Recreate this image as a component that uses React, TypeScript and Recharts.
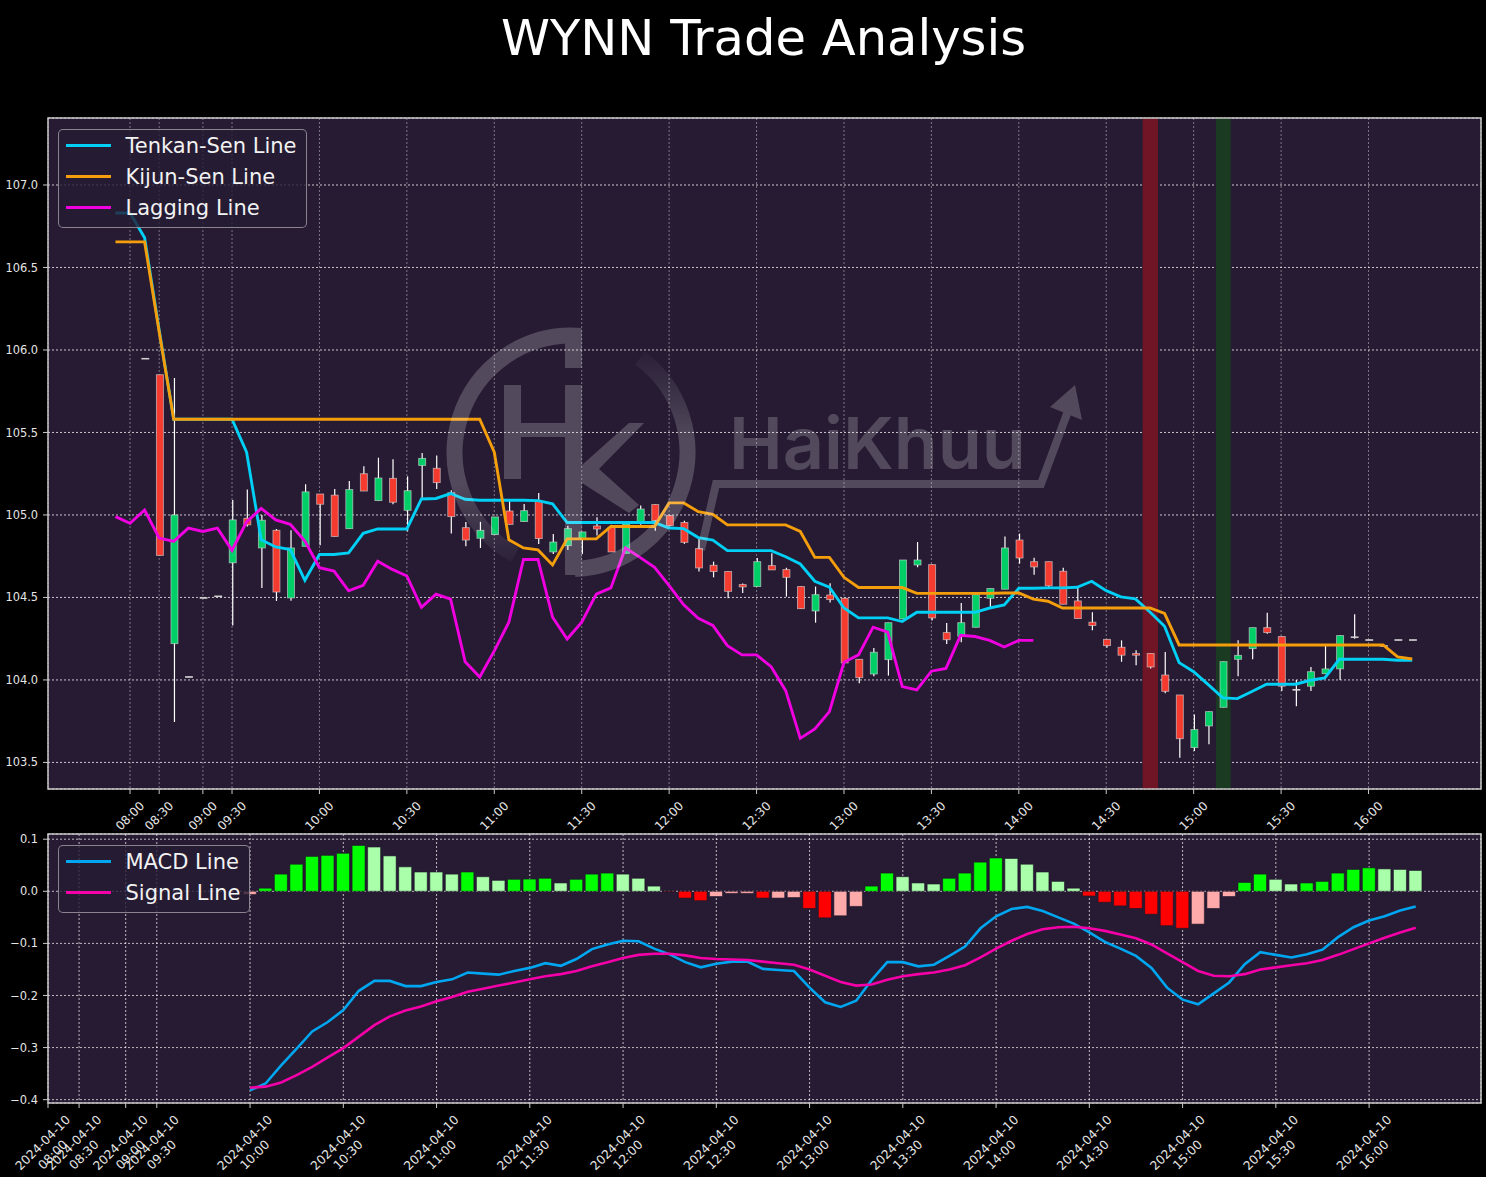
import {
  Bar, CartesianGrid, Cell, ComposedChart, Legend, Line, ReferenceArea, XAxis, YAxis,
} from 'recharts';

const FONT = '"DejaVu Sans", sans-serif';
const PANEL_BG = '#261b33';
const FRAME = '#c8c8c8';

// bar index of every labelled time tick
const timeTicks = [1, 3, 6, 8, 14, 20, 26, 32, 38, 44, 50, 56, 62, 68, 74, 80, 86];
const timeLabels = ['08:00', '08:30', '09:00', '09:30', '10:00', '10:30', '11:00', '11:30', '12:00', '12:30', '13:00', '13:30', '14:00', '14:30', '15:00', '15:30', '16:00'];
const dateLabel = '2024-04-10';

const priceTicks = [103.5, 104, 104.5, 105, 105.5, 106, 106.5, 107];
const macdTicks = [-0.4, -0.3, -0.2, -0.1, 0, 0.1];

const candleOpen = [null, null, 105.949, 105.85, 104.22, 104.02, 104.499, 104.509, 104.71, 104.98, 104.8, 104.907, 104.497, 104.81, 105.127, 105.12, 104.917, 105.25, 105.087, 105.222, 105.028, 105.3, 105.283, 105.135, 104.923, 104.859, 104.881, 105.024, 104.96, 105.083, 104.776, 104.814, 104.853, 104.933, 104.925, 104.768, 104.956, 105.063, 104.996, 104.954, 104.796, 104.695, 104.657, 104.578, 104.566, 104.693, 104.669, 104.566, 104.418, 104.515, 104.495, 104.125, 104.036, 104.123, 104.37, 104.697, 104.699, 104.287, 104.265, 104.319, 104.495, 104.55, 104.848, 104.717, 104.717, 104.659, 104.479, 104.35, 104.246, 104.198, 104.16, 104.16, 104.03, 103.909, 103.59, 103.721, 103.834, 104.125, 104.19, 104.317, 104.263, 103.942, 103.962, 104.038, 104.067, 104.261, 104.244, 104.208, 104.244, 104.244];
const candleHigh = [null, null, 105.949, 105.85, 105.83, 104.02, 104.499, 104.509, 105.09, 105.154, 105.0, 104.915, 104.907, 105.186, 105.127, 105.158, 105.206, 105.295, 105.347, 105.337, 105.234, 105.376, 105.36, 105.15, 104.958, 104.958, 104.988, 105.087, 105.067, 105.133, 104.885, 104.935, 104.897, 104.986, 104.94, 104.945, 105.057, 105.063, 104.996, 104.965, 104.855, 104.717, 104.657, 104.585, 104.739, 104.768, 104.68, 104.566, 104.566, 104.586, 104.495, 104.125, 104.194, 104.347, 104.727, 104.836, 104.699, 104.345, 104.467, 104.517, 104.554, 104.87, 104.887, 104.74, 104.717, 104.68, 104.56, 104.41, 104.246, 104.24, 104.18, 104.16, 104.17, 103.909, 103.79, 103.808, 104.111, 104.24, 104.317, 104.408, 104.263, 104.0, 104.079, 104.21, 104.269, 104.398, 104.244, 104.208, 104.244, 104.244];
const candleLow = [null, null, 105.945, 104.755, 103.745, 104.016, 104.495, 104.505, 104.33, 104.93, 104.558, 104.479, 104.48, 104.81, 104.816, 104.87, 104.917, 105.145, 105.087, 105.065, 104.9, 105.1, 105.158, 104.887, 104.81, 104.8, 104.881, 104.943, 104.96, 104.824, 104.764, 104.788, 104.764, 104.875, 104.776, 104.768, 104.94, 104.905, 104.935, 104.825, 104.657, 104.622, 104.495, 104.527, 104.566, 104.667, 104.505, 104.432, 104.347, 104.47, 104.103, 103.98, 104.022, 104.026, 104.37, 104.683, 104.36, 104.218, 104.228, 104.319, 104.44, 104.55, 104.705, 104.638, 104.56, 104.459, 104.372, 104.301, 104.195, 104.11, 104.089, 104.07, 103.92, 103.529, 103.57, 103.61, 103.834, 104.022, 104.125, 104.28, 103.933, 103.84, 103.933, 104.038, 104.0, 104.25, 104.24, 104.204, 104.24, 104.24];
const candleClose = [null, null, 105.945, 104.755, 105.0, 104.016, 104.495, 104.505, 104.97, 104.94, 104.968, 104.533, 104.8, 105.14, 105.065, 104.87, 105.154, 105.145, 105.224, 105.077, 105.147, 105.343, 105.196, 104.99, 104.848, 104.907, 104.988, 104.943, 105.026, 104.857, 104.836, 104.917, 104.897, 104.915, 104.776, 104.945, 105.036, 104.966, 104.935, 104.834, 104.679, 104.657, 104.537, 104.564, 104.717, 104.667, 104.622, 104.432, 104.517, 104.487, 104.103, 104.014, 104.168, 104.347, 104.727, 104.727, 104.376, 104.244, 104.347, 104.517, 104.554, 104.8, 104.739, 104.685, 104.57, 104.459, 104.372, 104.33, 104.208, 104.15, 104.15, 104.079, 103.931, 103.644, 103.699, 103.808, 104.111, 104.149, 104.317, 104.287, 103.962, 103.938, 104.05, 104.067, 104.269, 104.257, 104.24, 104.204, 104.24, 104.24];

const tenkan = [106.83, 106.83, 106.68, 106.12, 105.58, 105.58, 105.58, 105.58, 105.58, 105.38, 104.85, 104.806, 104.79, 104.604, 104.76, 104.76, 104.77, 104.889, 104.915, 104.915, 104.915, 105.097, 105.1, 105.13, 105.095, 105.089, 105.089, 105.089, 105.089, 105.087, 105.067, 104.954, 104.954, 104.954, 104.954, 104.954, 104.954, 104.954, 104.921, 104.917, 104.863, 104.848, 104.784, 104.784, 104.784, 104.784, 104.747, 104.703, 104.598, 104.562, 104.436, 104.376, 104.376, 104.376, 104.354, 104.41, 104.41, 104.41, 104.41, 104.41, 104.436, 104.455, 104.556, 104.556, 104.558, 104.558, 104.562, 104.598, 104.541, 104.503, 104.491, 104.412, 104.325, 104.105, 104.05, 103.972, 103.891, 103.887, 103.93, 103.974, 103.974, 103.974, 103.998, 104.012, 104.125, 104.125, 104.125, 104.125, 104.119, 104.119];
const kijun = [106.655, 106.655, 106.655, 106.11, 105.58, 105.58, 105.58, 105.58, 105.58, 105.58, 105.58, 105.58, 105.58, 105.58, 105.58, 105.58, 105.58, 105.58, 105.58, 105.58, 105.58, 105.58, 105.58, 105.58, 105.58, 105.58, 105.38, 104.85, 104.8, 104.788, 104.697, 104.855, 104.855, 104.855, 104.93, 104.93, 104.93, 104.93, 105.073, 105.073, 105.02, 105.004, 104.94, 104.94, 104.94, 104.94, 104.94, 104.9, 104.743, 104.743, 104.622, 104.56, 104.56, 104.56, 104.56, 104.525, 104.525, 104.525, 104.525, 104.525, 104.525, 104.527, 104.527, 104.49, 104.477, 104.436, 104.436, 104.436, 104.436, 104.436, 104.436, 104.436, 104.404, 104.212, 104.212, 104.212, 104.212, 104.212, 104.212, 104.212, 104.212, 104.212, 104.212, 104.212, 104.212, 104.212, 104.212, 104.212, 104.14, 104.127];
const lagging = [104.99, 104.95, 105.03, 104.86, 104.84, 104.92, 104.9, 104.92, 104.786, 104.958, 105.04, 104.97, 104.943, 104.842, 104.68, 104.66, 104.54, 104.574, 104.72, 104.67, 104.63, 104.44, 104.52, 104.49, 104.11, 104.018, 104.176, 104.35, 104.73, 104.73, 104.38, 104.248, 104.35, 104.52, 104.558, 104.8, 104.743, 104.683, 104.572, 104.455, 104.374, 104.331, 104.208, 104.152, 104.152, 104.08, 103.935, 103.646, 103.703, 103.808, 104.107, 104.152, 104.32, 104.29, 103.96, 103.94, 104.053, 104.07, 104.27, 104.263, 104.24, 104.2, 104.24, 104.24];

// MACD panel starts at bar 14
const MACD_START = 14;
const macdHist = [-0.006, 0.006, 0.033, 0.052, 0.067, 0.069, 0.073, 0.088, 0.085, 0.068, 0.047, 0.037, 0.037, 0.033, 0.037, 0.028, 0.021, 0.023, 0.0235, 0.025, 0.016, 0.023, 0.033, 0.035, 0.033, 0.025, 0.01, -0.001, -0.013, -0.018, -0.01, -0.004, -0.004, -0.013, -0.013, -0.012, -0.033, -0.051, -0.047, -0.029, 0.01, 0.035, 0.028, 0.016, 0.014, 0.025, 0.035, 0.056, 0.064, 0.063, 0.052, 0.037, 0.019, 0.006, -0.009, -0.021, -0.028, -0.033, -0.044, -0.066, -0.071, -0.063, -0.033, -0.01, 0.017, 0.033, 0.023, 0.014, 0.016, 0.019, 0.035, 0.042, 0.045, 0.043, 0.042, 0.04];
const macdLine = [-0.382, -0.369, -0.334, -0.302, -0.269, -0.251, -0.228, -0.191, -0.172, -0.172, -0.182, -0.182, -0.174, -0.169, -0.156, -0.158, -0.16, -0.153, -0.147, -0.138, -0.143, -0.13, -0.111, -0.102, -0.095, -0.096, -0.11, -0.121, -0.136, -0.146, -0.139, -0.135, -0.135, -0.149, -0.151, -0.153, -0.185, -0.213, -0.222, -0.21, -0.17, -0.136, -0.136, -0.144, -0.141, -0.124, -0.106, -0.071, -0.048, -0.034, -0.03, -0.038, -0.05, -0.062, -0.079, -0.097, -0.11, -0.124, -0.147, -0.185, -0.208, -0.217, -0.196, -0.175, -0.14, -0.117, -0.122, -0.127, -0.121, -0.112, -0.088, -0.069, -0.056, -0.048, -0.037, -0.029];
const signalLine = [-0.377, -0.375, -0.367, -0.353, -0.337, -0.319, -0.301, -0.279, -0.257, -0.24, -0.229, -0.221, -0.211, -0.203, -0.193, -0.187, -0.181, -0.175, -0.169, -0.163, -0.159, -0.153, -0.144, -0.136, -0.128, -0.122, -0.12, -0.12, -0.123, -0.128, -0.13, -0.131, -0.132, -0.135, -0.138, -0.141, -0.15, -0.162, -0.174, -0.181, -0.179, -0.17, -0.163, -0.159, -0.156, -0.15, -0.142, -0.127, -0.11, -0.095, -0.082, -0.073, -0.069, -0.068, -0.071, -0.076, -0.083, -0.09, -0.102, -0.119, -0.136, -0.153, -0.162, -0.163, -0.159, -0.15, -0.146, -0.142, -0.138, -0.132, -0.122, -0.111, -0.1, -0.089, -0.079, -0.07];

const priceData = candleOpen.map((open, i) => ({
  i,
  open,
  close: candleClose[i],
  high: candleHigh[i],
  low: candleLow[i],
  range: open == null ? undefined : [candleLow[i], candleHigh[i]],
  tenkan: tenkan[i],
  kijun: kijun[i],
  lagging: lagging[i] ?? null,
}));

const macdData = macdHist.map((hist, k) => ({
  i: MACD_START + k,
  hist,
  macd: macdLine[k],
  signal: signalLine[k],
}));

// bright when the histogram grows away from zero, pale when it shrinks
function histColor(k: number) {
  const v = macdHist[k];
  const prev = macdHist[k - 1];
  if (v >= 0) return prev !== undefined && v > prev ? '#00ff00' : '#aaffaa';
  return prev !== undefined && v < prev ? '#ff0000' : '#ffaaaa';
}

function Candle(props: any) {
  const { x, y, width, height, payload } = props;
  if (!payload || payload.open == null) return <g />;
  const { open, close, high, low } = payload;
  const perUnit = height / (high - low);
  const top = y + (high - Math.max(open, close)) * perUnit;
  const bodyH = Math.abs(open - close) * perUnit;
  const up = close >= open;
  const cx = x + width / 2 + 0.5;
  let fill = up ? '#00cf68' : '#f53b30';
  if (bodyH < 1) fill = '#b0b0b0'; // flat bars read as a grey dash
  return (
    <g>
      <line x1={cx} x2={cx} y1={y} y2={y + height} stroke="#ffffff" strokeWidth={1.2} />
      <rect
        x={x + 0.5}
        y={top}
        width={width}
        height={bodyH}
        fill={fill}
        stroke="#d9d9d9"
        strokeOpacity={bodyH < 1 ? 0.9 : 0.65}
        strokeWidth={0.9}
      />
    </g>
  );
}

function TimeTick({ x, y, payload }: any) {
  const label = timeLabels[timeTicks.indexOf(payload.value)];
  return (
    <text
      x={x}
      y={y + 20}
      transform={`rotate(-45 ${x} ${y + 20})`}
      textAnchor="middle"
      dominantBaseline="central"
      fontSize={12}
      fontFamily={FONT}
      fill="#e6e6e6"
    >
      {label}
    </text>
  );
}

function DateTimeTick({ x, y, payload }: any) {
  const label = timeLabels[timeTicks.indexOf(payload.value)];
  const shared = { textAnchor: 'middle', dominantBaseline: 'central', fontSize: 12.3, fontFamily: FONT, fill: '#e6e6e6' } as any;
  return (
    <g>
      <text {...shared} x={x - 5} y={y + 33} transform={`rotate(-45 ${x - 5} ${y + 33})`}>{dateLabel}</text>
      <text {...shared} x={x + 5} y={y + 45} transform={`rotate(-45 ${x + 5} ${y + 45})`}>{label}</text>
    </g>
  );
}

function BoxLegend({ items, style }: any) {
  return (
    <div
      style={{
        position: 'absolute',
        boxSizing: 'border-box',
        background: 'rgba(38,27,51,0.8)',
        border: '1.5px solid rgba(204,204,204,0.6)',
        borderRadius: 5,
        fontFamily: FONT,
        fontSize: 21,
        color: '#f2f2f2',
        ...style,
      }}
    >
      {items.map((it: any) => (
        <div key={it.name} style={{ position: 'absolute', left: 0, top: it.top, height: 0, width: '100%' }}>
          <div style={{ position: 'absolute', left: 7, top: -2.2, width: 45, height: 2.8, background: it.color }} />
          <div style={{ position: 'absolute', left: 66.5, top: -13.5, lineHeight: '26px', whiteSpace: 'nowrap' }}>{it.name}</div>
        </div>
      ))}
    </div>
  );
}

function Watermark() {
  return (
    <svg width={1486} height={1177} style={{ position: 'absolute', left: 0, top: 0, pointerEvents: 'none' }}>
      <defs>
        <linearGradient id="ringLeft" x1="0" y1="336" x2="0" y2="565" gradientUnits="userSpaceOnUse">
          <stop offset="0.65" stopColor="#fff" stopOpacity={1} />
          <stop offset="1" stopColor="#fff" stopOpacity={0.1} />
        </linearGradient>
        <linearGradient id="ringRight" x1="0" y1="352" x2="0" y2="440" gradientUnits="userSpaceOnUse">
          <stop offset="0" stopColor="#fff" stopOpacity={0.1} />
          <stop offset="1" stopColor="#fff" stopOpacity={1} />
        </linearGradient>
      </defs>
      <g opacity={0.2} fill="#fff">
        <path d="M 581 336 A 117 117 0 0 0 515 555" fill="none" stroke="url(#ringLeft)" strokeWidth={16} />
        <path d="M 640 358 A 117 117 0 0 1 575 569" fill="none" stroke="url(#ringRight)" strokeWidth={16} />
        <path d="M504 385 H521 V423 H565 V385 H582 V575 H565 V437 H521 V479 H504 Z" />
        <rect x={565} y={330} width={17} height={38} />
        <path d="M582 465 L629 423 L644 423 L599 469 L639 505 L629 513 L582 483 Z" />
        <text
          x={729}
          y={469}
          fontFamily="Inter, sans-serif"
          fontWeight={600}
          fontSize={72}
          textLength={297}
          lengthAdjust="spacingAndGlyphs"
        >
          HaiKhuu
        </text>
        <path d="M701 550 L716 484 H1041 L1071 403" fill="none" stroke="#fff" strokeWidth={8} />
        <path d="M1075 385 L1082 420 L1050 407 Z" />
      </g>
    </svg>
  );
}

const priceLegend = [
  { name: 'Tenkan-Sen Line', color: '#00d0f5', top: 16.5 },
  { name: 'Kijun-Sen Line', color: '#f59e0b', top: 47.5 },
  { name: 'Lagging Line', color: '#f000e0', top: 78 },
];
const macdLegend = [
  { name: 'MACD Line', color: '#00a6f0', top: 16 },
  { name: 'Signal Line', color: '#f500a8', top: 47 },
];

function PriceChart() {
  return (
    <ComposedChart width={1486} height={860} data={priceData} margin={{ top: 118, right: 5, bottom: 0, left: 0 }}>
      <CartesianGrid vertical={false} fill={PANEL_BG} stroke="#ffffff" strokeOpacity={0.75} strokeDasharray="2 2" />
      <CartesianGrid horizontal={false} stroke="#ffffff" strokeOpacity={0.4} strokeDasharray="2 2" />
      <ReferenceArea x1={70.5} x2={71.55} y1={103.339} y2={107.406} fill="#701525" fillOpacity={1} stroke="none" />
      <ReferenceArea x1={75.53} x2={76.55} y1={103.339} y2={107.406} fill="#1a3a22" fillOpacity={1} stroke="none" />
      <XAxis
        dataKey="i"
        type="number"
        domain={[-4.63, 93.72]}
        ticks={timeTicks}
        interval={0}
        height={71}
        axisLine={false}
        tickSize={5}
        tickLine={{ stroke: FRAME }}
        tick={<TimeTick />}
        allowDataOverflow
      />
      <YAxis
        type="number"
        domain={[103.339, 107.406]}
        ticks={priceTicks}
        interval={0}
        width={48}
        axisLine={false}
        tickSize={5}
        tickMargin={5}
        tickLine={{ stroke: FRAME }}
        tick={{ fontSize: 11.4, fontFamily: FONT, fill: '#e6e6e6' }}
        tickFormatter={(v: number) => v.toFixed(1)}
        allowDataOverflow
      />
      <Bar dataKey="range" barSize={7} shape={<Candle />} isAnimationActive={false} />
      <Line dataKey="tenkan" stroke="#00d0f5" strokeWidth={2.9} dot={false} isAnimationActive={false} />
      <Line dataKey="kijun" stroke="#f59e0b" strokeWidth={2.9} dot={false} isAnimationActive={false} />
      <Line dataKey="lagging" stroke="#f000e0" strokeWidth={2.9} dot={false} isAnimationActive={false} />
      <ReferenceArea x1={-4.63} x2={93.72} y1={103.339} y2={107.406} fill="none" stroke={FRAME} strokeWidth={1.5} />
      <Legend
        layout="horizontal"
        verticalAlign="middle"
        align="center"
        wrapperStyle={{ position: 'absolute', left: 0, top: 0, width: 0, height: 0 }}
        content={() => <BoxLegend items={priceLegend} style={{ left: 58, top: 129, width: 249, height: 99 }} />}
      />
    </ComposedChart>
  );
}

function MacdChart() {
  return (
    <ComposedChart width={1486} height={347} data={macdData} margin={{ top: 4, right: 5, bottom: 0, left: 0 }}>
      <CartesianGrid fill={PANEL_BG} stroke="#ffffff" strokeOpacity={0.7} strokeDasharray="2 2" />
      <XAxis
        dataKey="i"
        type="number"
        domain={[1, 93.2]}
        ticks={timeTicks}
        interval={0}
        height={74}
        axisLine={false}
        tickSize={5}
        tickLine={{ stroke: FRAME }}
        tick={<DateTimeTick />}
        allowDataOverflow
      />
      <YAxis
        type="number"
        domain={[-0.4064, 0.11]}
        ticks={macdTicks}
        interval={0}
        width={48}
        axisLine={false}
        tickSize={5}
        tickMargin={5}
        tickLine={{ stroke: FRAME }}
        tick={{ fontSize: 11.4, fontFamily: FONT, fill: '#e6e6e6' }}
        tickFormatter={(v: number) => v.toFixed(1).replace('-', '\u2212')}
        allowDataOverflow
      />
      <Bar dataKey="hist" barSize={13} stroke="#1c1426" strokeWidth={0.6} isAnimationActive={false}>
        {macdData.map((d, k) => (
          <Cell key={d.i} fill={histColor(k)} />
        ))}
      </Bar>
      <Line dataKey="macd" stroke="#00a6f0" strokeWidth={2.6} dot={false} isAnimationActive={false} />
      <Line dataKey="signal" stroke="#f500a8" strokeWidth={2.6} dot={false} isAnimationActive={false} />
      <ReferenceArea x1={1} x2={93.2} y1={-0.4064} y2={0.11} fill="none" stroke={FRAME} strokeWidth={1.5} />
      <Legend
        layout="horizontal"
        verticalAlign="middle"
        align="center"
        wrapperStyle={{ position: 'absolute', left: 0, top: 0, width: 0, height: 0 }}
        content={() => <BoxLegend items={macdLegend} style={{ left: 58, top: 15, width: 192, height: 68 }} />}
      />
    </ComposedChart>
  );
}

export default function App() {
  return (
    <div style={{ position: 'absolute', left: 0, top: 0, width: 1486, height: 1177, background: '#000', overflow: 'hidden' }}>
      <div
        style={{
          position: 'absolute',
          left: 0,
          top: 8,
          width: 1527,
          textAlign: 'center',
          fontFamily: FONT,
          fontSize: 49.6,
          lineHeight: '60px',
          color: '#fff',
        }}
      >
        WYNN Trade Analysis
      </div>
      <div style={{ position: 'absolute', left: 0, top: 0 }}>
        <PriceChart />
      </div>
      <div style={{ position: 'absolute', left: 0, top: 830 }}>
        <MacdChart />
      </div>
      <Watermark />
    </div>
  );
}
